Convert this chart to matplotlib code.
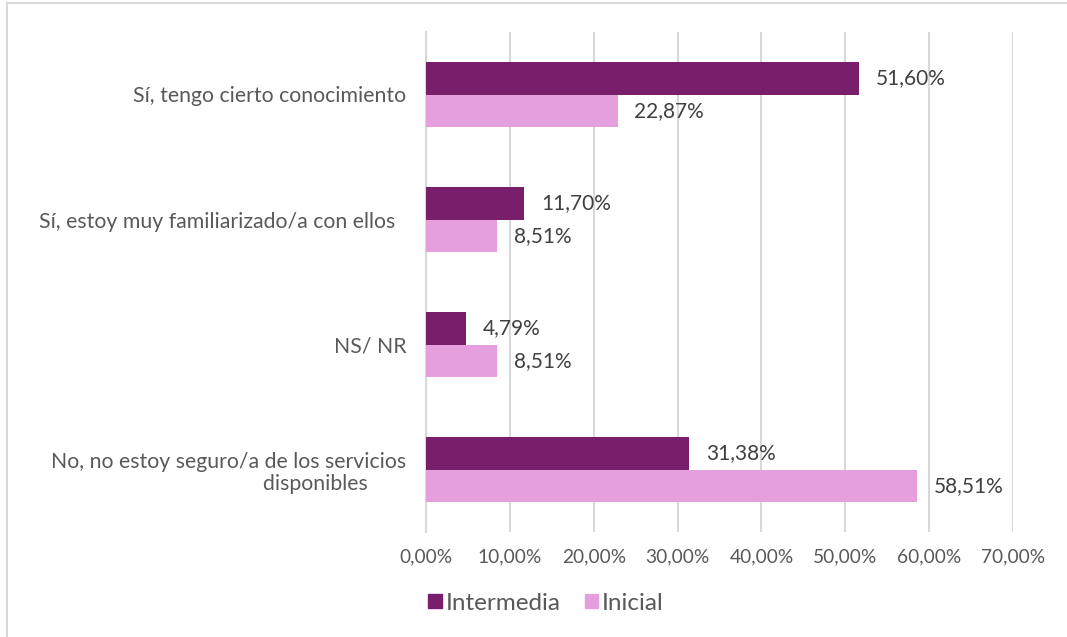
import matplotlib
matplotlib.use("Agg")
import matplotlib.pyplot as plt
from matplotlib.lines import Line2D
from matplotlib.patches import Patch
import numpy as np

plt.rcParams['font.family'] = ['Lato', 'DejaVu Sans']

categories = [
    "Sí, tengo cierto conocimiento",
    "Sí, estoy muy familiarizado/a con ellos  ",
    "NS/ NR",
    "No, no estoy seguro/a de los servicios\ndisponibles       ",
]
intermedia = [51.60, 11.70, 4.79, 31.38]
inicial = [22.87, 8.51, 8.51, 58.51]
series_names = ["Intermedia", "Inicial"]
xticks = [0, 10, 20, 30, 40, 50, 60, 70]

c_dark = "#781E6B"
c_light = "#E59FDD"
txt = "#404040"
tick_col = "#595959"
grid_col = "#D9D9D9"

W, H = 1067, 637
fig = plt.figure(figsize=(W/100, H/100), dpi=100)
ax = fig.add_axes([426/W, 1-532/H, (1013-426)/W, (532-32)/H])

y = np.arange(len(categories))
bh = 0.26
ax.barh(y - bh/2, intermedia, height=bh, color=c_dark, zorder=3)
ax.barh(y + bh/2, inicial, height=bh, color=c_light, zorder=3)

def fmt(v):
    return f"{v:.2f}".replace(".", ",") + "%"

for yi, v in zip(y, intermedia):
    ax.annotate(fmt(v), (v, yi - bh/2), xytext=(12, 0), textcoords="offset points",
                va="center", ha="left", fontsize=15, color=txt)
for yi, v in zip(y, inicial):
    ax.annotate(fmt(v), (v, yi + bh/2), xytext=(12, 0), textcoords="offset points",
                va="center", ha="left", fontsize=15, color=txt)

ax.set_ylim(len(categories) - 0.5, -0.5)
ax.set_xlim(0, 70)
ax.set_xticks(xticks)
ax.set_xticklabels([fmt(t) for t in xticks], fontsize=13.8, color=tick_col)
ax.set_yticks(y)
ax.set_yticklabels(categories, fontsize=15.3, color=tick_col, linespacing=1.15)
ax.tick_params(axis='y', length=0, pad=14)
ax.tick_params(axis='x', length=0, pad=12)
ax.grid(axis='x', color=grid_col, linewidth=1.5, zorder=0)
for s in ["top", "right", "bottom"]:
    ax.spines[s].set_visible(False)
ax.spines["left"].set_color(grid_col)
ax.spines["left"].set_linewidth(1.5)

handles = [Patch(color=c_dark), Patch(color=c_light)]
fig.legend(handles, series_names, loc="center", bbox_to_anchor=(546/W, 1-603/H),
           ncol=2, frameon=False, fontsize=17.5, handlelength=0.55, handleheight=0.55,
           handletextpad=0.15, columnspacing=1.0, labelcolor=tick_col)

# outer border
fig.add_artist(Line2D([7/W, 7/W], [0, 1-3/H], color=grid_col, linewidth=1.5))
fig.add_artist(Line2D([7/W, 1], [1-3/H, 1-3/H], color=grid_col, linewidth=1.5))

fig.savefig("out.png", dpi=100)
